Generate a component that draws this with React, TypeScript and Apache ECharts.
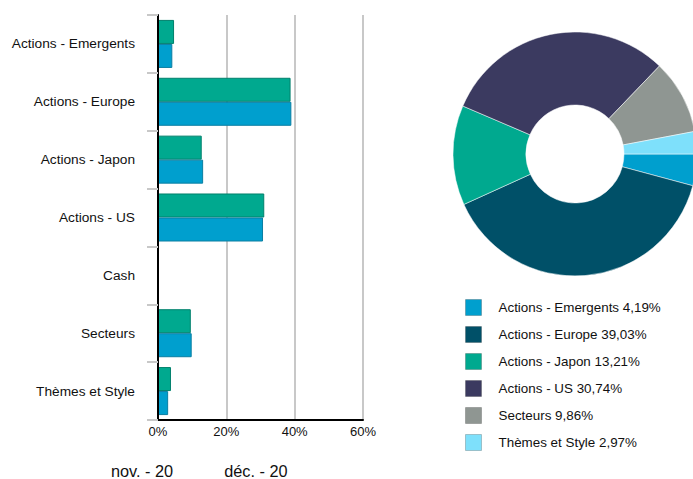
import React, { useEffect, useRef } from "react";
import * as echarts from "echarts";

const categories = [
  "Actions - Emergents",
  "Actions - Europe",
  "Actions - Japon",
  "Actions - US",
  "Cash",
  "Secteurs",
  "Thèmes et Style",
];
const seriesNames = ["nov. - 20", "déc. - 20"];
const novValues = [4.7, 38.8, 12.8, 31.1, 0, 9.6, 3.8];
const decValues = [4.19, 39.03, 13.21, 30.74, 0, 9.86, 2.97];

const pieNames = [
  "Actions - Emergents",
  "Actions - Europe",
  "Actions - Japon",
  "Actions - US",
  "Secteurs",
  "Thèmes et Style",
];
const pieValues = [4.19, 39.03, 13.21, 30.74, 9.86, 2.97];
const pieColors = ["#009fce", "#005068", "#00a98f", "#3b3a60", "#8f9692", "#7ee0fb"];

const xMin = 0;
const xMax = 60;
const xInterval = 20;

const FONT = "Liberation Sans, Arial, sans-serif";

export default function App() {
  const ref = useRef<HTMLDivElement>(null);
  useEffect(() => {
    if (!ref.current) return;
    const chart = echarts.init(ref.current, null, { renderer: "svg" });
    const fmt = (v: number) => v.toFixed(2).replace(".", ",") + "%";
    chart.setOption({
      animation: false,
      textStyle: { fontFamily: FONT },
      grid: { left: 158, right: 330, top: 15, bottom: 59, containLabel: false },
      legend: [
        {
          data: seriesNames,
          left: 100,
          top: 458,
          itemWidth: 0,
          itemHeight: 0,
          itemGap: 45,
          selectedMode: false,
          textStyle: { fontFamily: FONT, fontSize: 16.3, color: "#111" },
        },
        {
          data: pieNames,
          orient: "vertical",
          left: 460,
          top: 294,
          itemWidth: 16,
          itemHeight: 16,
          itemGap: 10,
          selectedMode: false,
          icon: "rect",
          itemStyle: { borderColor: "rgba(0,0,0,0.2)", borderWidth: 1 },
          formatter: (name: string) => {
            const i = pieNames.indexOf(name);
            return name + " " + fmt(pieValues[i]);
          },
          textStyle: {
            fontFamily: FONT,
            fontSize: 13.4,
            color: "#111",
            padding: [0, 0, 0, 12],
          },
        },
      ],
      xAxis: {
        type: "value",
        min: xMin,
        max: xMax,
        interval: xInterval,
        axisLine: { show: true, lineStyle: { color: "#000", width: 2 } },
        axisTick: { show: false },
        axisLabel: {
          formatter: (v: number) => v + "%",
          fontSize: 13,
          color: "#111",
          margin: 5,
          fontFamily: FONT,
        },
        splitLine: { show: true, lineStyle: { color: "#c8c8c8", width: 2 } },
      },
      yAxis: {
        type: "category",
        data: categories,
        inverse: true,
        z: 5,
        axisLine: { show: true, lineStyle: { color: "#000", width: 2 } },
        axisTick: { show: true, length: 11, lineStyle: { color: "#c8c8c8", width: 2 } },
        axisLabel: { fontSize: 13.7, color: "#111", margin: 23, fontFamily: FONT },
        splitLine: { show: false },
      },
      series: [
        {
          name: seriesNames[0],
          type: "bar",
          data: novValues,
          barGap: "0%",
          barCategoryGap: "17%",
          itemStyle: { color: "#00a98f", borderColor: "#00806c", borderWidth: 1 },
        },
        {
          name: seriesNames[1],
          type: "bar",
          data: decValues,
          barGap: "0%",
          barCategoryGap: "17%",
          itemStyle: { color: "#009fce", borderColor: "#0a7ea2", borderWidth: 1 },
        },
        {
          name: "Répartition",
          type: "pie",
          center: [575, 154],
          radius: [49, 122],
          startAngle: 0,
          clockwise: true,
          label: { show: false },
          labelLine: { show: false },
          emphasis: { disabled: true },
          itemStyle: { borderColor: "#ffffff", borderWidth: 0.5 },
          data: pieNames.map((n, i) => ({
            name: n,
            value: pieValues[i],
            itemStyle: { color: pieColors[i] },
          })),
        },
      ],
    });
    return () => chart.dispose();
  }, []);
  return (
    <div
      ref={ref}
      style={{ position: "fixed", left: 0, top: 0, width: 693, height: 479, background: "#fff" }}
    />
  );
}
